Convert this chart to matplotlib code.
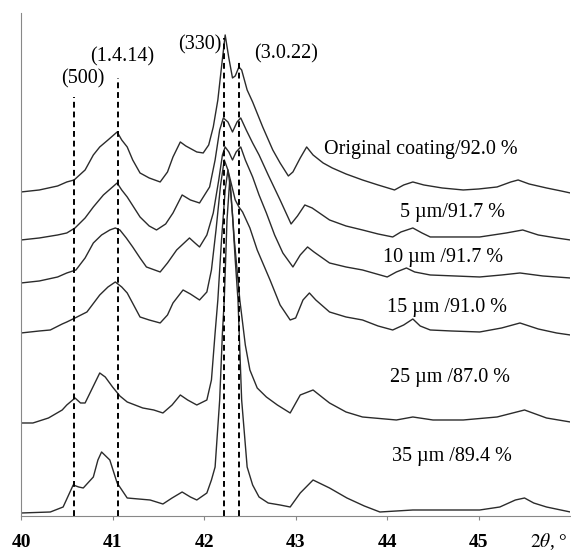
import matplotlib
matplotlib.use("Agg")
import matplotlib.pyplot as plt

plt.rcParams['font.family'] = ['Liberation Serif', 'DejaVu Serif']
plt.rcParams['mathtext.fontset'] = 'stix'

x_orig = [40.0, 40.2, 40.4, 40.5, 40.58, 40.7, 40.79, 40.86, 40.95, 41.05, 41.1, 41.16, 41.22, 41.3,
          41.4, 41.52, 41.6, 41.66, 41.74, 41.8, 41.92, 41.99, 42.05, 42.1, 42.15, 42.19, 42.23, 42.27,
          42.31, 42.34, 42.38, 42.41, 42.47, 42.53, 42.64, 42.75, 42.83, 42.92, 42.97, 43.05, 43.12,
          43.19, 43.3, 43.4, 43.55, 43.73, 43.9, 44.08, 44.18, 44.28, 44.4, 44.6, 44.83, 45.0, 45.2,
          45.35, 45.43, 45.55, 45.74, 45.9, 46.0]
y_orig = [324, 326, 330, 334, 336, 346, 361, 369, 376, 384, 376, 369, 356, 343,
          338, 334, 344, 359, 374, 370, 364, 363, 371, 389, 416, 449, 481, 458,
          438, 440, 449, 446, 426, 414, 389, 366, 353, 340, 344, 358, 369,
          361, 353, 348, 342, 336, 331, 326, 331, 334, 331, 328, 326, 327, 329,
          334, 336, 332, 328, 325, 323]

x_5 = [40.0, 40.2, 40.4, 40.5, 40.59, 40.7, 40.79, 40.9, 41.05, 41.1, 41.16, 41.3, 41.4, 41.48,
       41.58, 41.66, 41.76, 41.85, 41.95, 42.06, 42.12, 42.17, 42.21, 42.26, 42.31, 42.36, 42.4,
       42.46, 42.53, 42.6, 42.7, 42.83, 42.95, 43.02, 43.1, 43.18, 43.37, 43.55, 43.73, 43.9,
       44.06, 44.15, 44.28, 44.38, 44.47, 44.7, 45.01, 45.3, 45.48, 45.65, 45.85, 46.0]
y_5 = [276, 278, 281, 283, 288, 298, 309, 321, 333, 326, 319, 299, 290, 286,
       292, 303, 321, 316, 313, 329, 356, 386, 398, 394, 384, 394, 398,
       386, 373, 361, 341, 316, 292, 300, 311, 308, 296, 290, 286, 282,
       279, 284, 288, 283, 279, 279, 279, 283, 286, 281, 278, 276]

x_10 = [40.0, 40.2, 40.4, 40.5, 40.6, 40.7, 40.79, 40.88, 40.97, 41.03, 41.08, 41.15, 41.22, 41.3,
        41.37, 41.52, 41.6, 41.7, 41.84, 41.9, 41.95, 42.03, 42.1, 42.16, 42.2, 42.23, 42.27,
        42.31, 42.35, 42.4, 42.45, 42.53, 42.6, 42.68, 42.77, 42.86, 42.97, 43.05, 43.13, 43.2,
        43.37, 43.55, 43.73, 44.0, 44.1, 44.21, 44.3, 44.47, 45.01, 45.25, 45.45, 45.7, 46.0]
y_10 = [233, 235, 239, 243, 246, 258, 273, 281, 286, 288, 286, 278, 269, 258,
        249, 244, 253, 266, 278, 273, 269, 281, 303, 336, 361, 369, 364,
        356, 364, 369, 356, 339, 321, 303, 281, 263, 249, 261, 269, 264,
        253, 249, 246, 239, 244, 248, 244, 241, 239, 241, 243, 240, 238]

x_15 = [40.0, 40.2, 40.32, 40.45, 40.5, 40.59, 40.72, 40.86, 40.95, 41.03, 41.1, 41.16, 41.3, 41.4,
        41.52, 41.6, 41.66, 41.77, 41.85, 41.95, 42.03, 42.08, 42.13, 42.18, 42.22, 42.26, 42.3,
        42.34, 42.38, 42.42, 42.5, 42.58, 42.65, 42.72, 42.83, 42.94, 43.0, 43.08, 43.15, 43.22,
        43.37, 43.55, 43.73, 43.9, 44.06, 44.18, 44.28, 44.36, 44.47, 44.7, 45.01, 45.25, 45.45,
        45.65, 45.85, 46.0]
y_15 = [183, 185, 186, 192, 194, 198, 204, 221, 229, 234, 229, 223, 199, 196,
        193, 201, 213, 226, 222, 216, 224, 246, 286, 331, 356, 346, 331,
        316, 309, 304, 288, 266, 251, 236, 211, 196, 198, 216, 223, 216,
        204, 199, 196, 190, 186, 191, 197, 190, 186, 185, 184, 188, 193,
        187, 183, 181]

x_25 = [40.0, 40.13, 40.3, 40.45, 40.5, 40.59, 40.65, 40.7, 40.78, 40.86, 40.92, 41.0, 41.08, 41.16,
        41.33, 41.45, 41.55, 41.65, 41.74, 41.82, 41.92, 42.03, 42.08, 42.12, 42.15, 42.19, 42.23,
        42.26, 42.29, 42.33, 42.39, 42.45, 42.5, 42.58, 42.68, 42.8, 42.94, 43.05, 43.19, 43.3,
        43.37, 43.55, 43.73, 44.1, 44.28, 44.5, 44.83, 45.2, 45.5, 45.74, 46.0]
y_25 = [93, 93, 98, 106, 111, 118, 113, 113, 128, 143, 139, 129, 120, 114,
        108, 106, 103, 111, 121, 116, 111, 116, 136, 183, 216, 276, 326,
        346, 326, 276, 216, 171, 146, 128, 119, 111, 103, 121, 126, 118,
        113, 104, 99, 96, 99, 96, 96, 99, 106, 98, 94]

x_35 = [40.0, 40.32, 40.46, 40.52, 40.57, 40.63, 40.68, 40.79, 40.84, 40.88, 40.97, 41.05, 41.16,
        41.41, 41.55, 41.65, 41.76, 41.85, 41.92, 42.03, 42.08, 42.12, 42.17, 42.2, 42.22, 42.25,
        42.28, 42.31, 42.34, 42.37, 42.41, 42.47, 42.53, 42.6, 42.7, 42.83, 42.94, 43.05, 43.19,
        43.37, 43.56, 43.75, 43.92, 44.28, 45.01, 45.23, 45.4, 45.5, 45.6, 45.74, 46.0]
y_35 = [3, 4, 9, 21, 31, 29, 28, 39, 56, 64, 56, 33, 18,
        16, 12, 18, 24, 19, 16, 23, 36, 49, 116, 183, 216, 296,
        336, 301, 256, 216, 116, 49, 31, 19, 13, 11, 9, 23, 36,
        28, 18, 10, 4, 6, 6, 9, 16, 18, 13, 9, 4]

etiquetas = ['Original coating/92.0 %', '5 µm/91.7 %', '10 µm /91.7 %',
             '15 µm /91.0 %', '25 µm /87.0 %', '35 µm /89.4 %']

# planos de difraccion (posicion 2theta y altura de la linea)
planos = ['(500)', '(1.4.14)', '(330)', '(3.0.22)']
pos_planos = [40.58, 41.06, 42.215, 42.38]
alto_planos = [419, 438, 478, 456]

fig = plt.figure(figsize=(5.71, 5.54), dpi=100)
ax = fig.add_axes([0.0368, 0.0686, 0.962, 0.908])

curvas = [(x_orig, y_orig), (x_5, y_5), (x_10, y_10), (x_15, y_15), (x_25, y_25), (x_35, y_35)]
for xs, ys in curvas:
    ax.plot(xs, ys, color='#2b2b2b', linewidth=1.0)

for p, h in zip(pos_planos, alto_planos):
    ax.plot([p, p], [0, h], color='black', linewidth=1.4, linestyle=(0, (3, 2)))

# texto de los planos
pos_txt_planos = [(40.68, 437), (41.10, 459), (41.95, 471), (42.90, 462)]
for t, (tx, ty) in zip(planos, pos_txt_planos):
    ax.text(tx, ty, t, ha='center', va='center', fontsize=14.5)

# texto de cada curva
pos_txt = [(43.31, 366), (44.14, 303), (43.95, 258), (44.0, 208), (44.03, 138), (44.05, 59)]
for t, (tx, ty) in zip(etiquetas, pos_txt):
    ax.text(tx, ty, t, ha='left', va='center', fontsize=14.5)

ax.set_xlim(40, 46)
ax.set_ylim(0, 503)
ax.set_xticks([40, 41, 42, 43, 44, 45])
ax.set_xticklabels(['40', '41', '42', '43', '44', '45'], fontsize=14, fontweight='bold')
ax.set_yticks([])
ax.tick_params(axis='x', direction='out', length=3, color='#888888', pad=10)
for s in ['top', 'right']:
    ax.spines[s].set_visible(False)
for s in ['left', 'bottom']:
    ax.spines[s].set_color('#888888')

fig.text(0.994, 1 - 542 / 554, r'$2\theta$, °', ha='right', va='center', fontsize=14)

fig.savefig('out.png', dpi=100)
